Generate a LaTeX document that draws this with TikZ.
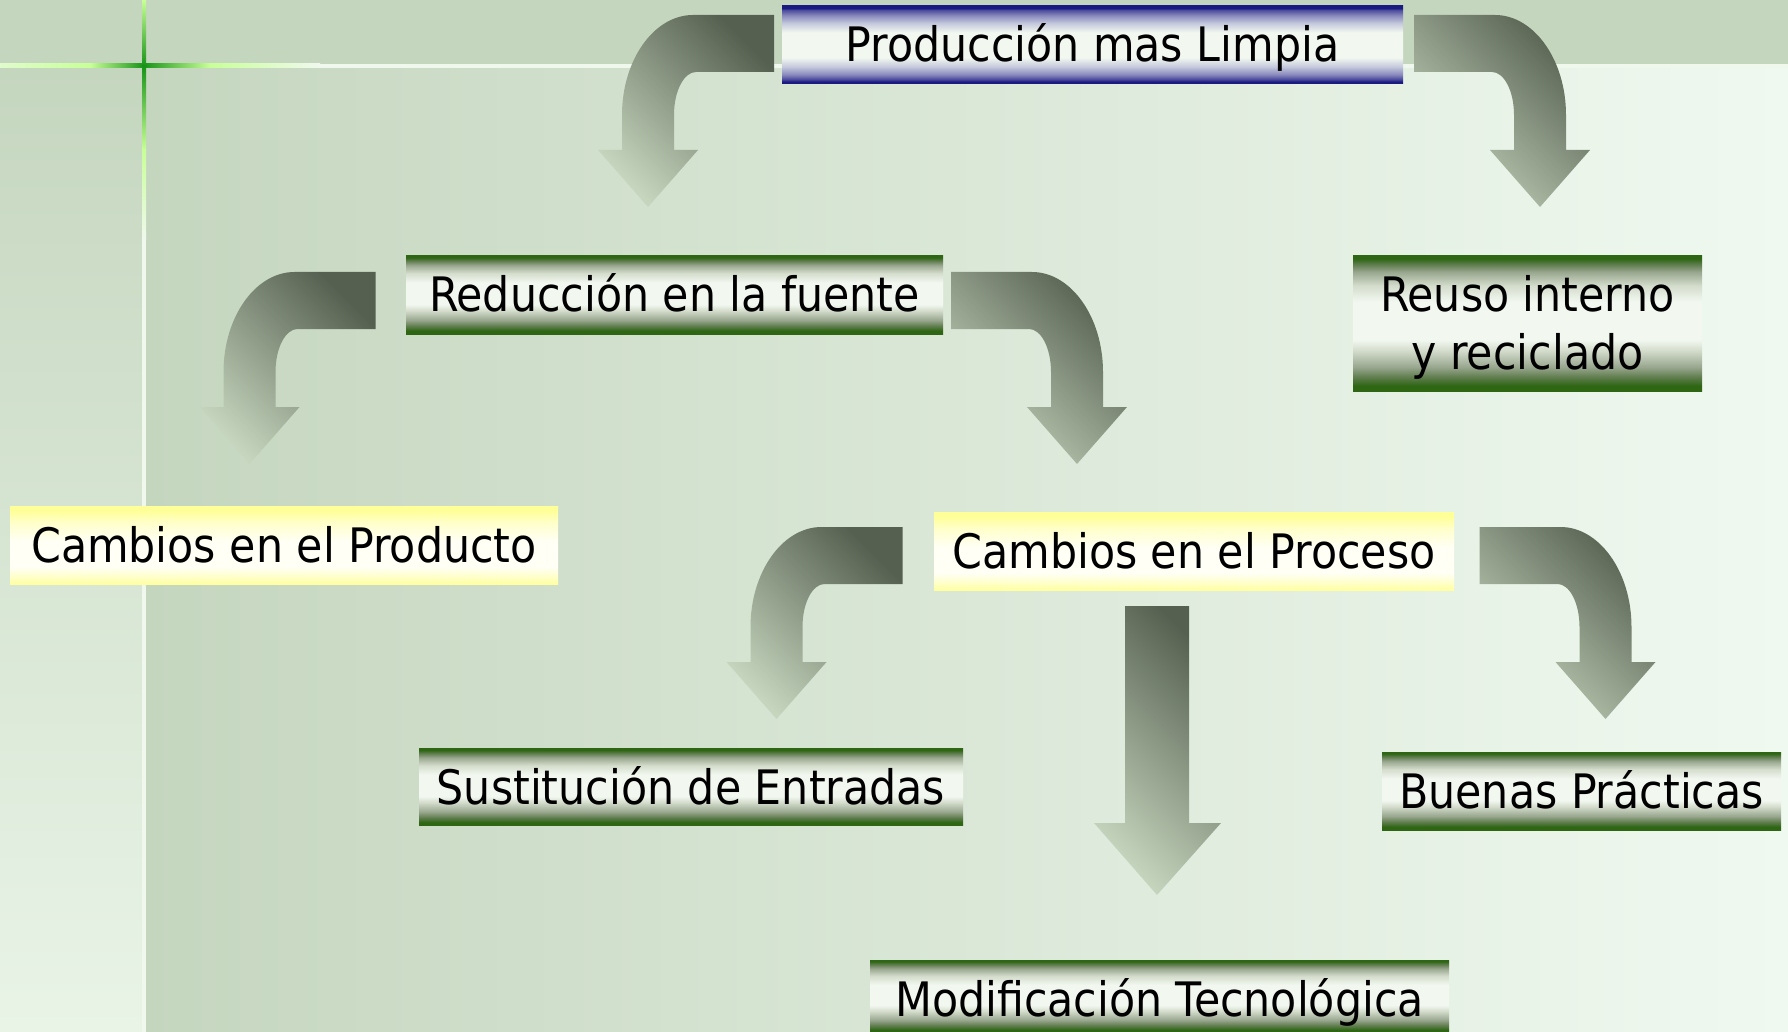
\documentclass[tikz,border=0pt]{standalone}
\usepackage{fontspec}
\setmainfont{DejaVu Sans Condensed}
\definecolor{bgA}{HTML}{C5D6BF}
\definecolor{bgB}{HTML}{F0F9F0}
\definecolor{bgC}{HTML}{E9F4E7}
\definecolor{lnW}{HTML}{F0F8EE}
\definecolor{lnL}{HTML}{C8FF98}
\definecolor{lnG}{HTML}{189418}
\definecolor{arD}{HTML}{566050}
\definecolor{arL}{HTML}{C6D6BE}
\definecolor{nvD}{HTML}{1A1A80}
\definecolor{nvM}{HTML}{4A4A9C}
\definecolor{nvN}{HTML}{8888BC}
\definecolor{nvL}{HTML}{C4C8DC}
\definecolor{gnD}{HTML}{2E6614}
\definecolor{gnM}{HTML}{5E7C4C}
\definecolor{gnN}{HTML}{9AA890}
\definecolor{gnL}{HTML}{D4DCCC}
\definecolor{whX}{HTML}{F2F8F0}
\definecolor{ylD}{HTML}{FFFF99}
\definecolor{ylB}{HTML}{FFFFA0}
\definecolor{ylM}{HTML}{FFFFCC}
\definecolor{ylW}{HTML}{FFFFF6}
\pgfdeclareverticalshading{navybar}{100bp}{color(0bp)=(nvD); color(25bp)=(nvD); color(26.5bp)=(nvD); color(28bp)=(nvM); color(31bp)=(nvN); color(36bp)=(nvL); color(42bp)=(whX); color(58bp)=(whX); color(64bp)=(nvL); color(69bp)=(nvN); color(72.5bp)=(nvM); color(73.5bp)=(nvD); color(100bp)=(nvD)}
\pgfdeclareverticalshading{greenbar}{100bp}{color(0bp)=(gnD); color(25bp)=(gnD); color(27bp)=(gnD); color(30bp)=(gnM); color(34bp)=(gnN); color(40bp)=(gnL); color(44bp)=(whX); color(58bp)=(whX); color(64bp)=(gnL); color(69bp)=(gnN); color(72bp)=(gnM); color(74bp)=(gnD); color(100bp)=(gnD)}
\pgfdeclareverticalshading{yellowbar}{100bp}{color(0bp)=(ylB); color(25bp)=(ylB); color(30bp)=(ylM); color(36bp)=(ylW); color(52bp)=(ylW); color(64bp)=(ylM); color(72bp)=(ylD); color(100bp)=(ylD)}
\newcommand\bentarrow[3]{%
  \path[arrowshade] ({#1+126*#3},{#2}) -- ({#1+45*#3},{#2})
    .. controls ({#1+6*#3},{#2}) and ({#1-26*#3},{#2+45}) .. ({#1-26*#3},{#2+100})
    -- ({#1-26*#3},{#2+135}) -- ({#1-50*#3},{#2+135}) -- ({#1},{#2+192})
    -- ({#1+50*#3},{#2+135}) -- ({#1+26*#3},{#2+135}) -- ({#1+26*#3},{#2+100})
    .. controls ({#1+26*#3},{#2+76}) and ({#1+36*#3},{#2+57}) .. ({#1+48*#3},{#2+57})
    -- ({#1+126*#3},{#2+57}) -- cycle;}
\tikzset{
  arrowshade/.style={shade, shading=axis, top color=arD, bottom color=arL, shading angle=-45},
  box/.style={rectangle, inner sep=0pt, text height=34pt, text depth=0pt, font=\fontsize{47.5}{58}\selectfont, text=black},
  navybox/.style={box, shade, shading=navybar},
  greenbox/.style={box, shade, shading=greenbar},
  yellowbox/.style={box, shade, shading=yellowbar},
}
\begin{document}
\begin{tikzpicture}[x=1pt,y=-1pt]
\useasboundingbox (0,0) rectangle (1788,1032);
% background
\fill[bgA] (0,0) rectangle (1788,67);
\shade[left color=bgA, right color=bgB] (144,66) rectangle (1788,1032);
\shade[top color=bgA, bottom color=bgC] (0,66) rectangle (144,1032);
% horizontal line
\shade[left color=lnW!60!lnL, right color=lnL] (0,64) rectangle (90,68);
\shade[left color=lnL, right color=lnG] (90,64) rectangle (144,68);
\shade[left color=lnG, right color=lnL] (144,64) rectangle (210,68);
\shade[left color=lnL, right color=lnW] (210,64) rectangle (320,68);
\fill[lnW] (320,64) rectangle (1788,68);
% vertical line
\shade[top color=lnL, bottom color=lnG] (142,0) rectangle (146,66);
\shade[top color=lnG, bottom color=lnL] (142,66) rectangle (146,150);
\shade[top color=lnL, bottom color=lnW] (142,150) rectangle (146,240);
\fill[lnW] (142,240) rectangle (146,1032);
% arrows
\bentarrow{648}{15}{1}
\bentarrow{1540}{15}{-1}
\bentarrow{249.5}{272}{1}
\bentarrow{1077}{272}{-1}
\bentarrow{776.5}{527}{1}
\bentarrow{1605.5}{527}{-1}
\path[arrowshade] (1125,606) -- (1189,606) -- (1189,823) -- (1221,823) -- (1157,895) -- (1094,823) -- (1125,823) -- cycle;
% boxes
\node[navybox, minimum width=621pt, minimum height=78pt] (prod) at (1092.5,45) {Producción mas Limpia};
\node[greenbox, minimum width=537pt, minimum height=78pt] (red) at (674.5,295) {Reducción en la fuente};
\node[greenbox, minimum width=349pt, minimum height=135pt, text height=92pt] (reuso) at (1527.5,323.5) {\begin{tabular}[b]{@{}c@{}}Reuso interno\\y reciclado\end{tabular}};
\node[yellowbox, minimum width=548pt, minimum height=78pt] (cprod) at (284,545) {Cambios en el Producto};
\node[yellowbox, minimum width=520pt, minimum height=78pt] (cproc) at (1194,551) {Cambios en el Proceso};
\node[greenbox, minimum width=544pt, minimum height=77pt] (sust) at (691,787) {Sustitución de Entradas};
\node[greenbox, minimum width=399pt, minimum height=78pt] (buenas) at (1581.5,791) {Buenas Prácticas};
\node[greenbox, minimum width=579pt, minimum height=73pt, text height=39pt] (modif) at (1159.5,996.5) {Modificación Tecnológica};
\end{tikzpicture}
\end{document}
